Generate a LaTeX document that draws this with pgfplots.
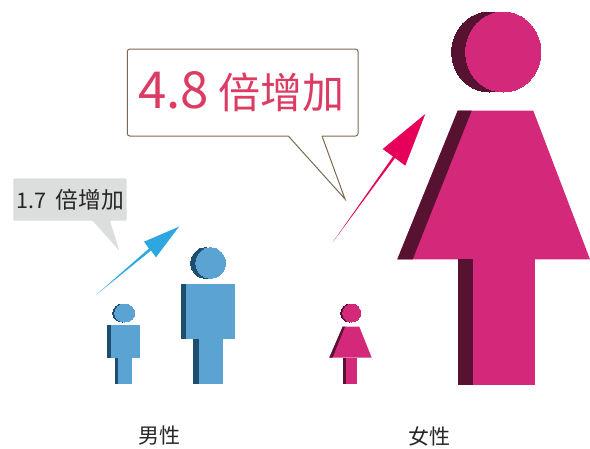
\documentclass[border=0pt]{standalone}
\usepackage{fontspec}
\usepackage{pgfplots}
\pgfplotsset{compat=1.18}
\newfontfamily\cjk{Noto Sans CJK TC}
\definecolor{blueB}{HTML}{5AA3D3}
\definecolor{blueS}{HTML}{1E4E6F}
\definecolor{blueA}{HTML}{2CA7E0}
\definecolor{pinkB}{HTML}{D4287A}
\definecolor{pinkS}{HTML}{561230}
\definecolor{pinkA}{HTML}{E6005A}
\definecolor{edge}{HTML}{7B6A52}
\definecolor{greyC}{HTML}{DCDDDD}
\definecolor{redT}{HTML}{DC3C64}
\begin{document}
\begin{tikzpicture}
\useasboundingbox (0,0) rectangle (590pt,448pt);
\begin{axis}[
  at={(0,0)}, anchor=south west,
  hide axis, scale only axis, width=590pt, height=448pt,
  xmin=0, xmax=590, ymin=0, ymax=448, y dir=reverse,
  clip=false]
% small callout
\addplot[fill=greyC, draw=none, rounded corners=1pt] coordinates {(13.3,178.3)(126.7,178.3)(126.7,220.7)(110,220.7)(119.3,250.7)(92.7,220.7)(13.3,220.7)} --cycle;
% big callout
\addplot[fill=none, draw=edge, line width=1pt, line join=miter] coordinates {(288.3,136)(345,199)(322,136)};
\addplot[fill=none, draw=edge, line width=1pt, rounded corners=2.5pt] coordinates {(322,136)(358,136)(358,49)(127.3,49)(127.3,136)(288.3,136)};
% arrows
\addplot[fill=blueA, draw=none] coordinates {(96,295)(149,248.5)(144,241.7)(179,226.7)(156,257.3)(151,250.5)} --cycle;
\addplot[fill=pinkA, draw=none] coordinates {(332.7,242.3)(393,156.5)(382.7,149)(425.3,114)(405.3,165.7)(395,158)} --cycle;
% small man
\addplot[only marks, mark=*, mark size=9pt, mark options={xscale=1.11, line width=0pt, draw=blueS, fill=blueS}] coordinates {(122.7,313)};
\addplot[only marks, mark=*, mark size=9pt, mark options={xscale=1.11, line width=0pt, draw=blueB, fill=blueB}] coordinates {(124.7,313)};
\addplot[fill=blueB, draw=none] coordinates {(107,325)(139.7,325)(139.7,358)(107,358)} --cycle;
\addplot[fill=blueS, draw=none] coordinates {(107,325)(110.7,325)(110.7,358)(107,358)} --cycle;
\addplot[fill=blueB, draw=none] coordinates {(115,358)(132.3,358)(132.3,384.3)(115,384.3)} --cycle;
\addplot[fill=blueS, draw=none] coordinates {(115,358)(118.3,358)(118.3,384.3)(115,384.3)} --cycle;
% large man
\addplot[only marks, mark=*, mark size=15.2pt, mark options={xscale=0.97, line width=0pt, draw=blueS, fill=blueS}] coordinates {(205.5,263)};
\addplot[only marks, mark=*, mark size=15.2pt, mark options={xscale=0.97, line width=0pt, draw=blueB, fill=blueB}] coordinates {(210.6,263)};
\addplot[fill=blueB, draw=none] coordinates {(181,284.3)(235,284.3)(235,338.7)(181,338.7)} --cycle;
\addplot[fill=blueS, draw=none] coordinates {(181,284.3)(186,284.3)(186,338.7)(181,338.7)} --cycle;
\addplot[fill=blueB, draw=none] coordinates {(192.7,338.7)(222.7,338.7)(222.7,384.3)(192.7,384.3)} --cycle;
\addplot[fill=blueS, draw=none] coordinates {(192.7,338.7)(199,338.7)(199,384.3)(192.7,384.3)} --cycle;
% small woman
\addplot[only marks, mark=*, mark size=9pt, mark options={line width=0pt, draw=pinkS, fill=pinkS}] coordinates {(349.7,313)};
\addplot[only marks, mark=*, mark size=9pt, mark options={line width=0pt, draw=pinkB, fill=pinkB}] coordinates {(351.7,313)};
\addplot[fill=pinkB, draw=none] coordinates {(342.7,326.7)(359.3,326.7)(371.7,357.7)(329.3,357.7)} --cycle;
\addplot[fill=pinkS, draw=none] coordinates {(342.7,326.7)(345,326.7)(332.5,357.7)(329.3,357.7)} --cycle;
\addplot[fill=pinkB, draw=none] coordinates {(342.7,357.7)(357.3,357.7)(357.3,384.3)(342.7,384.3)} --cycle;
\addplot[fill=pinkS, draw=none] coordinates {(342.7,357.7)(345.7,357.7)(345.7,384.3)(342.7,384.3)} --cycle;
% large woman
\addplot[only marks, mark=*, mark size=40pt, mark options={xscale=0.94, line width=0pt, draw=pinkS, fill=pinkS}] coordinates {(489.3,52)};
\addplot[only marks, mark=*, mark size=40pt, mark options={xscale=0.94, line width=0pt, draw=pinkB, fill=pinkB}] coordinates {(503.3,52)};
\addplot[fill=pinkB, draw=none] coordinates {(457.7,110.7)(533.3,110.7)(590,259.3)(397.3,259.3)} --cycle;
\addplot[fill=pinkS, draw=none] coordinates {(457.7,110.7)(471.7,110.7)(412.7,259.3)(397.3,259.3)} --cycle;
\addplot[fill=pinkB, draw=none] coordinates {(458.3,259.3)(535.3,259.3)(535.3,385)(458.3,385)} --cycle;
\addplot[fill=pinkS, draw=none] coordinates {(458.3,259.3)(472.7,259.3)(472.7,385)(458.3,385)} --cycle;
% text
\node[anchor=center, inner sep=0pt, text=redT] at (axis cs:241.5,92) {\cjk\fontsize{51}{53}\selectfont 4.8\hspace{10pt}\fontsize{42}{44}\selectfont 倍增加};
\node[anchor=center, inner sep=0pt, text=black!85] at (axis cs:70.5,200) {\cjk\fontsize{21.5}{24}\selectfont 1.7\hspace{9pt}\fontsize{22.8}{24}\selectfont 倍增加};
\node[anchor=center, inner sep=0pt, text=black!85] at (axis cs:159,436) {\cjk\fontsize{21}{24}\selectfont 男性};
\node[anchor=center, inner sep=0pt, text=black!85] at (axis cs:429,436) {\cjk\fontsize{21}{24}\selectfont 女性};
\end{axis}
\end{tikzpicture}
\end{document}
